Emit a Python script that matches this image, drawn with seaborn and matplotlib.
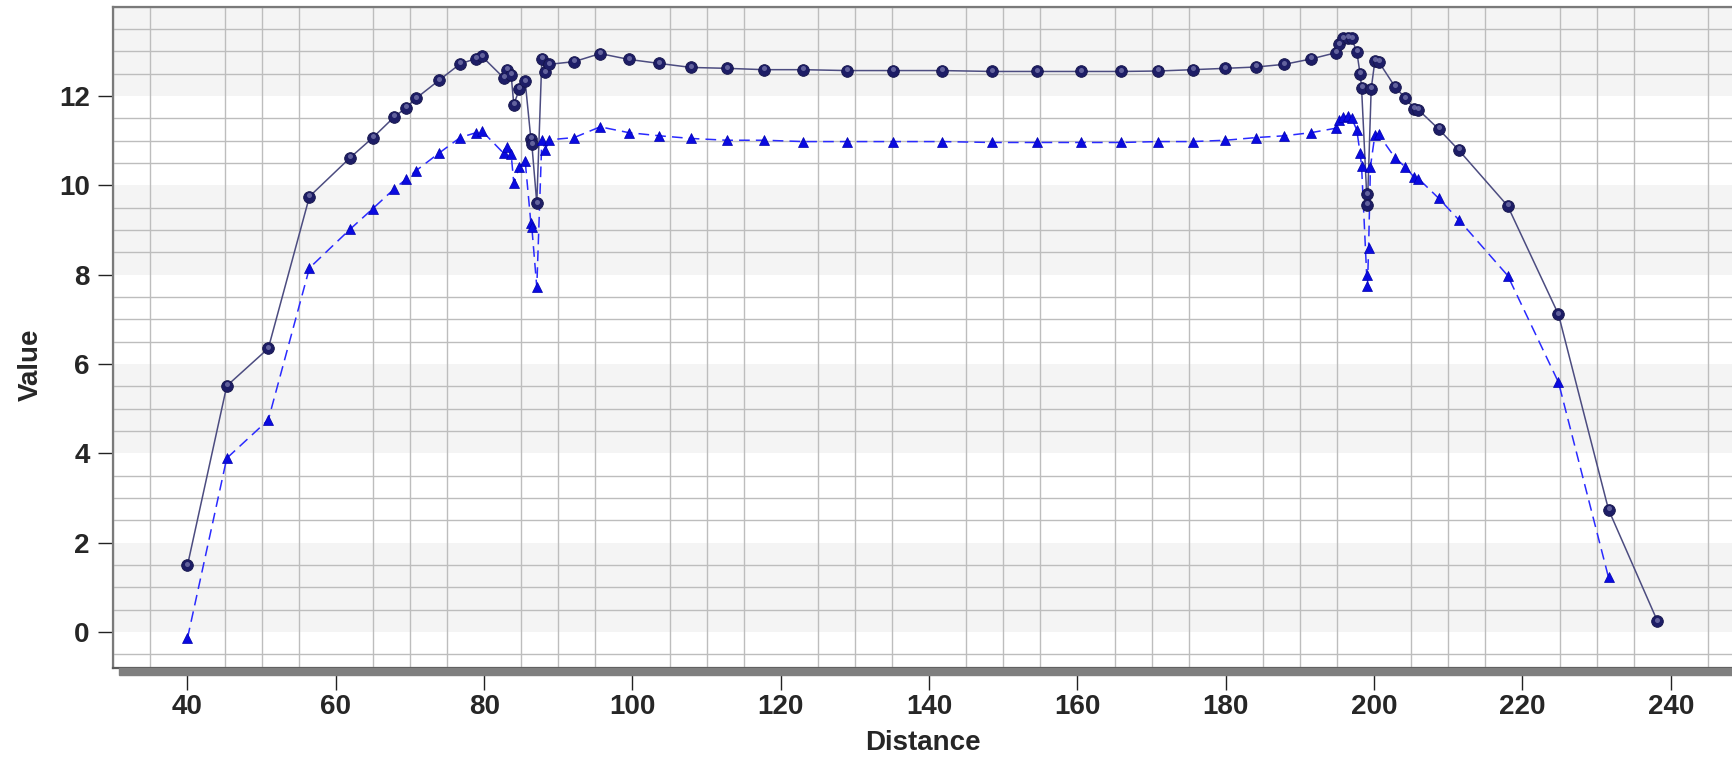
import matplotlib
matplotlib.use("Agg")
import matplotlib.pyplot as plt
import matplotlib.transforms as mtransforms
from matplotlib.patches import Rectangle
import numpy as np
import pandas as pd
import seaborn as sns

# Series A (solid line, round markers)
dist_a = [40.0, 45.3, 50.9, 56.45, 61.94, 65.0, 67.87, 69.49, 70.83, 73.9,
          76.77, 78.92, 79.69, 82.62, 83.06, 83.64, 84.0, 84.76, 85.53, 86.3,
          86.43, 87.1, 87.78, 88.23, 88.8, 92.14, 95.64, 99.5, 103.6, 107.9,
          112.7, 117.75, 123.05, 128.9, 135.1, 141.75, 148.45, 154.5, 160.5, 165.9,
          170.9, 175.55, 179.95, 184.1, 187.9, 191.5, 194.85, 195.3, 195.86, 196.5,
          196.97, 197.66, 198.1, 198.3, 198.99, 199.1, 199.6, 200.1, 200.6, 202.8,
          204.2, 205.4, 205.97, 208.7, 211.4, 218.0, 224.85, 231.6, 238.2]
value_a = [1.49, 5.51, 6.35, 9.75, 10.62, 11.07, 11.53, 11.74, 11.95, 12.35,
           12.72, 12.84, 12.89, 12.41, 12.59, 12.47, 11.81, 12.16, 12.33, 11.04,
           10.92, 9.60, 12.83, 12.53, 12.71, 12.77, 12.95, 12.82, 12.73, 12.64,
           12.62, 12.59, 12.59, 12.57, 12.57, 12.57, 12.55, 12.55, 12.55, 12.55,
           12.56, 12.59, 12.62, 12.65, 12.71, 12.83, 12.97, 13.16, 13.29, 13.31,
           13.29, 12.99, 12.50, 12.19, 9.80, 9.57, 12.16, 12.79, 12.77, 12.21,
           11.95, 11.72, 11.69, 11.26, 10.79, 9.54, 7.11, 2.74, 0.24]

# Series B (dashed line, triangle markers)
dist_b = [40.0, 45.3, 50.9, 56.45, 61.94, 65.0, 67.87, 69.49, 70.83, 73.9,
          76.77, 78.92, 79.69, 82.62, 83.06, 83.64, 84.0, 84.76, 85.53, 86.3,
          86.43, 87.1, 87.78, 88.23, 88.8, 92.14, 95.64, 99.5, 103.6, 107.9,
          112.7, 117.75, 123.05, 128.9, 135.1, 141.75, 148.45, 154.5, 160.5, 165.9,
          170.9, 175.55, 179.95, 184.1, 187.9, 191.5, 194.85, 195.3, 195.86, 196.5,
          196.97, 197.66, 198.1, 198.3, 198.99, 199.1, 199.25, 199.5, 200.1, 200.6,
          202.8, 204.2, 205.4, 205.97, 208.7, 211.4, 218.0, 224.85, 231.6]
value_b = [-0.14, 3.89, 4.75, 8.15, 9.02, 9.48, 9.92, 10.14, 10.33, 10.72,
           11.07, 11.18, 11.22, 10.72, 10.85, 10.70, 10.05, 10.42, 10.55, 9.16,
           9.06, 7.72, 11.02, 10.79, 11.02, 11.07, 11.31, 11.18, 11.11, 11.05,
           11.01, 11.01, 10.98, 10.98, 10.98, 10.98, 10.96, 10.96, 10.96, 10.96,
           10.98, 10.98, 11.01, 11.07, 11.11, 11.18, 11.28, 11.46, 11.54, 11.55,
           11.50, 11.24, 10.72, 10.44, 8.00, 7.74, 8.60, 10.42, 11.13, 11.14,
           10.62, 10.41, 10.18, 10.15, 9.71, 9.23, 7.98, 5.59, 1.22]

x_ticks = [40, 60, 80, 100, 120, 140, 160, 180, 200, 220, 240]
y_ticks = [0, 2, 4, 6, 8, 10, 12]

df_a = pd.DataFrame({"Distance": dist_a, "Value": value_a})
df_b = pd.DataFrame({"Distance": dist_b, "Value": value_b})

sns.set_theme(style="white")
plt.rcParams["font.family"] = ["Liberation Sans", "DejaVu Sans"]

W, H, DPI = 1732, 760, 100
fig = plt.figure(figsize=(W / DPI, H / DPI), dpi=DPI)
ax_left, ax_top, ax_bottom, ax_right = 113.3, 6.7, 667.7, 1745.0
ax = fig.add_axes([ax_left / W, (H - ax_bottom) / H,
                   (ax_right - ax_left) / W, (ax_bottom - ax_top) / H])

x_min, x_max = 30, 250
y_min, y_max = -0.8, 13.95
ax.set_xlim(x_min, x_max)
ax.set_ylim(y_min, y_max)

# alternating horizontal bands between major y ticks
band_edges = [y_min] + y_ticks + [14]
for lo, hi in zip(band_edges[:-1], band_edges[1:]):
    if lo >= 0 and (lo // 2) % 2 == 0:
        ax.axhspan(lo, hi, color="#f4f4f4", zorder=0, lw=0)

# fine grid: every 5 in x, every 0.5 in y
ax.set_xticks(np.arange(30, 251, 5), minor=True)
ax.set_yticks(np.arange(-0.5, 14.01, 0.5), minor=True)
ax.grid(which="minor", color="#bdbdbd", lw=1.0, zorder=1)
ax.grid(which="major", visible=False)
ax.set_axisbelow(True)

# Series A line and sphere-like markers
sns.lineplot(data=df_a, x="Distance", y="Value", sort=False, estimator=None,
             ax=ax, color="#4c4c80", lw=1.1, zorder=3)
ax.plot(df_a["Distance"], df_a["Value"], ls="none", marker="o", ms=8.4,
        mfc="#1d1d66", mec="#14144a", mew=0.6, zorder=4)
hl = mtransforms.offset_copy(ax.transData, fig=fig, x=0, y=1.6, units="dots")
ax.plot(df_a["Distance"], df_a["Value"], ls="none", marker="o", ms=3.6,
        mfc="#7a7ab0", mec="none", alpha=0.75, transform=hl, zorder=5)

# Series B dashed line with triangles
sns.lineplot(data=df_b, x="Distance", y="Value", sort=False, estimator=None,
             ax=ax, color="#2a2aff", lw=1.1, zorder=3, dashes=False)
ax.lines[-1].set_dashes([7, 4])
ax.plot(df_b["Distance"], df_b["Value"], ls="none", marker="^", ms=7.8,
        mfc="#0a0ae0", mec="#0000b0", mew=0.5, zorder=4)

# frame
ax.spines["right"].set_visible(False)
for side in ["left", "top"]:
    ax.spines[side].set_color("#7a7a7a")
    ax.spines[side].set_linewidth(1.6)
ax.spines["bottom"].set_color("#5a5a5a")
ax.spines["bottom"].set_linewidth(1.6)
fig.patches.append(Rectangle(((ax_left + 6) / W, (H - ax_bottom - 7) / H),
                             (W - ax_left) / W, 6.5 / H,
                             transform=fig.transFigure, color="#7f7f7f",
                             zorder=0))

ax.set_xticks(x_ticks)
ax.set_yticks(y_ticks)
ax.set_xticklabels([str(t) for t in x_ticks])
ax.set_yticklabels([str(t) for t in y_ticks])
ax.tick_params(axis="x", which="major", length=16, width=1, color="#222222",
               direction="out", pad=3, labelsize=20, bottom=True)
ax.tick_params(axis="y", which="major", length=11, width=1, color="#222222",
               direction="out", pad=6, labelsize=20, left=True)
ax.tick_params(which="minor", length=0)
for lbl in ax.get_xticklabels() + ax.get_yticklabels():
    lbl.set_fontweight("bold")

ax.set_xlabel("Distance", fontsize=20, fontweight="bold")
ax.set_ylabel("Value", fontsize=20, fontweight="bold")
# xlabel anchored at its top edge, ylabel at its right edge
ax.xaxis.set_label_coords((923 - ax_left) / (ax_right - ax_left),
                          (ax_bottom - 730) / (ax_bottom - ax_top))
ax.yaxis.set_label_coords((44 - ax_left) / (ax_right - ax_left),
                          (ax_bottom - 365) / (ax_bottom - ax_top))

fig.savefig("out.png", dpi=DPI)
